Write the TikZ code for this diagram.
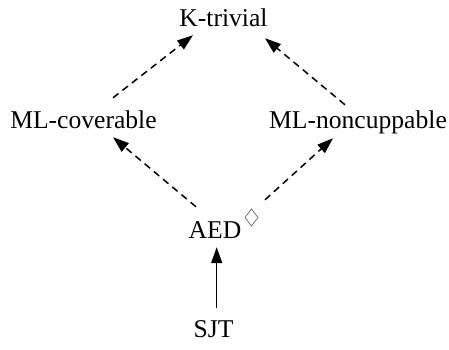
\documentclass[tikz,border=0pt]{standalone}
\usepackage{fontspec}
\setmainfont{Liberation Serif}
\usetikzlibrary{arrows.meta}
\begin{document}
\begin{tikzpicture}[x=1pt,y=1pt,
  lbl/.style={anchor=base,inner sep=0pt,text height=17pt,text depth=5pt,
    font=\fontsize{25.6}{30}\selectfont},
  conn/.style={line width=1.5pt,-{Triangle[length=16pt,width=11pt]}},
  weak/.style={conn,dash pattern=on 7pt off 5pt}]
\useasboundingbox (0,0) rectangle (449,349);

% classes
\node[lbl] (kt)  at (223.5,323) {K-trivial};
\node[lbl] (mlc) at (83.5,221)  {ML-coverable};
\node[lbl] (mln) at (358,221)   {ML-noncuppable};
\node[lbl] (aed) at (215,111)   {AED};
\node[lbl] (sjt) at (213.5,12)  {SJT};

% marker beside AED
\draw[line width=0.7pt,gray!80!black]
  (251.5,140) -- (258,131.5) -- (251.5,123) -- (245,131.5) -- cycle;

% implications
\draw[weak] ([shift={(29.5,13)}]mlc.north) -- ([shift={(-30.5,-4)}]kt.south);
\draw[weak] ([shift={(-13,6)}]mln.north) -- ([shift={(41.5,-7)}]kt.south);
\draw[weak] ([shift={(-19,14)}]aed.north) -- ([shift={(29.5,-4)}]mlc.south);
\draw[weak] ([shift={(50,21)}]aed.north) -- ([shift={(-25,-5)}]mln.south);
\draw[conn] ([shift={(3.2,12)}]sjt.north) -- ([shift={(1.7,-4)}]aed.south);
\end{tikzpicture}
\end{document}
